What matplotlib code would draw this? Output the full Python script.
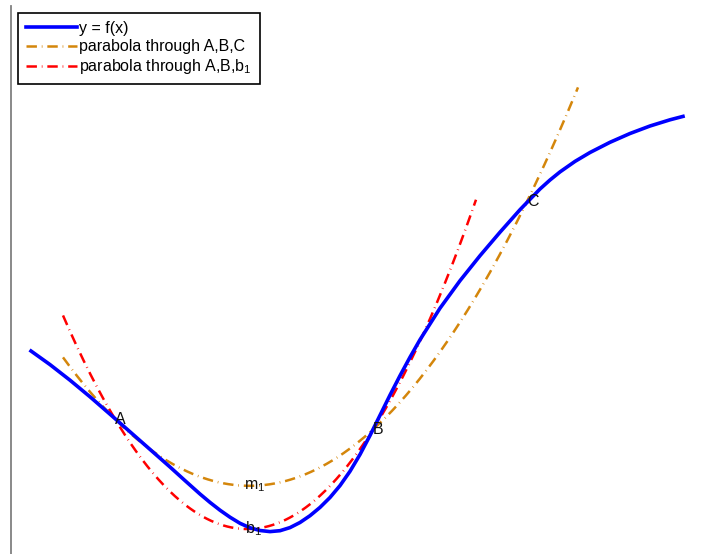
import numpy as np
import matplotlib
matplotlib.use("Agg")
import matplotlib.pyplot as plt

plt.rcParams['font.family'] = ['Liberation Sans', 'DejaVu Sans']
plt.rcParams['mathtext.fontset'] = 'custom'
plt.rcParams['mathtext.rm'] = 'Liberation Sans'
plt.rcParams['mathtext.default'] = 'regular'
plt.rcParams['lines.scale_dashes'] = False

# sampled points of y = f(x)
curve_x = [0.20, 0.39, 0.59, 0.79, 0.99, 1.19, 1.39, 1.59, 1.74, 1.89, 1.99,
           2.09, 2.19, 2.29, 2.39, 2.49, 2.59, 2.69, 2.79, 2.89, 2.99, 3.09,
           3.19, 3.29, 3.39, 3.49, 3.59, 3.69, 3.79, 3.89, 3.99, 4.09, 4.29,
           4.49, 4.69, 4.89, 5.09, 5.29, 5.39, 5.49, 5.64, 5.79, 5.99, 6.19,
           6.39, 6.59, 6.72]
curve_y = [2.030, 1.894, 1.738, 1.572, 1.398, 1.222, 1.046, 0.870, 0.734,
           0.600, 0.516, 0.438, 0.368, 0.307, 0.262, 0.235, 0.224, 0.233,
           0.264, 0.315, 0.383, 0.466, 0.565, 0.684, 0.827, 0.995, 1.185,
           1.387, 1.589, 1.783, 1.968, 2.143, 2.458, 2.733, 2.983, 3.218,
           3.443, 3.650, 3.740, 3.821, 3.926, 4.015, 4.117, 4.205, 4.280,
           4.342, 4.376]

# labelled points
pt_A = (1.04, 1.35)
pt_B = (3.62, 1.245)
pt_C = (5.16, 3.525)
pt_b1 = (2.34, 0.25)

# x extent of each parabola
abc_range = (0.52, 5.67)
abb_range = (0.52, 4.65)


def parabola(points, xr):
    xs = [p[0] for p in points]
    ys = [p[1] for p in points]
    coef = np.polyfit(xs, ys, 2)
    xx = np.linspace(xr[0], xr[1], 300)
    return xx, np.polyval(coef, xx), coef


fig = plt.figure(figsize=(7.23, 5.54), dpi=100)
ax = fig.add_axes([11 / 723, 0, 712 / 723, 548 / 554])
ax.set_xlim(0, 7.12)
ax.set_ylim(0, 5.48)

ax.plot(curve_x, curve_y, color='#0000ff', lw=2.6, label='y = f(x)',
        solid_joinstyle='round', zorder=3)

x1, y1, c1 = parabola([pt_A, pt_B, pt_C], abc_range)
ax.plot(x1, y1, color='#d4860b', lw=1.8, dashes=(7.5, 3.5, 0.5, 3.5),
        label='parabola through A,B,C', zorder=2)

x2, y2, c2 = parabola([pt_A, pt_B, pt_b1], abb_range)
ax.plot(x2, y2, color='#ff0000', lw=1.8, dashes=(7.5, 3.5, 0.5, 3.5),
        label='parabola through A,B,$b_1$', zorder=2)

# m1: ABC parabola at the midpoint of A and B
xm = (pt_A[0] + pt_B[0]) / 2
pt_m1 = (xm, np.polyval(c1, xm))

tkw = dict(fontsize=11.5, ha='left', va='center', color='#111111', zorder=4)
ax.text(pt_A[0], pt_A[1], 'A', **tkw)
ax.text(pt_B[0], pt_B[1], 'B', **tkw)
ax.text(pt_C[0], pt_C[1], 'C', **tkw)
ax.text(pt_m1[0], pt_m1[1], '$m_1$', **tkw)
ax.text(pt_b1[0], pt_b1[1], '$b_1$', **tkw)

for s in ['top', 'right', 'bottom']:
    ax.spines[s].set_visible(False)
ax.spines['left'].set_color('#808080')
ax.spines['left'].set_linewidth(1.3)
ax.set_xticks([])
ax.set_yticks([])

leg = ax.legend(loc='upper left', bbox_to_anchor=(18 / 723, 1 - 13 / 554),
                bbox_transform=fig.transFigure, borderaxespad=0,
                fontsize=11.5, fancybox=False, framealpha=1,
                handlelength=3.2, handletextpad=0.15, labelspacing=0.2,
                borderpad=0.5)
leg.get_frame().set_edgecolor('black')
leg.get_frame().set_linewidth(1.2)

fig.savefig('out.png', dpi=100)
